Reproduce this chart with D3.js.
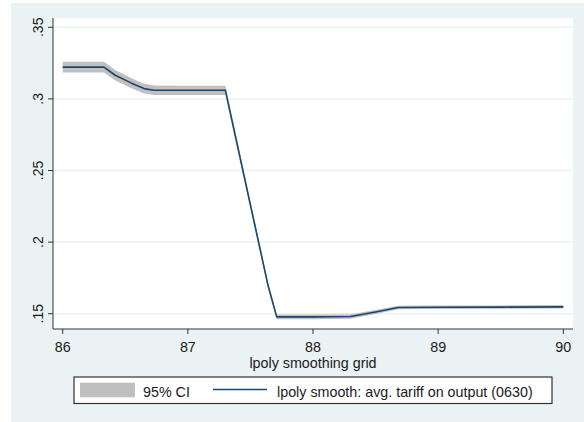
<!DOCTYPE html>
<html>
<head>
<meta charset="utf-8">
<script src="https://cdn.jsdelivr.net/npm/d3@7"></script>
<style>
  body { margin: 0; background: #fff; }
  text { font-family: "Liberation Sans", Arial, sans-serif; fill: #1a1a1a; }
</style>
</head>
<body>
<svg id="chart"></svg>
<script>
// lpoly grid points
const gridX    = [86, 86.33, 86.42, 86.55, 86.65, 86.73, 87.0, 87.3, 87.64, 87.71, 88.0, 88.3, 88.5, 88.68, 89.0, 89.5, 90.0];
const smoothY  = [.3222, .3222, .3165, .3110, .3072, .3060, .3060, .3060, .1700, .1478, .1478, .1480, .1512, .1543, .1545, .1546, .1548];
const ciLow    = [.3185, .3185, .3129, .3075, .3038, .3027, .3028, .3028, .1680, .1461, .1462, .1464, .1498, .1531, .1533, .1534, .1536];
const ciHigh   = [.3259, .3259, .3201, .3145, .3106, .3093, .3092, .3092, .1720, .1495, .1494, .1496, .1526, .1555, .1557, .1558, .1560];

const xTicks = [86, 87, 88, 89, 90];
const yTicks = [.15, .2, .25, .3, .35];
const yTickLabels = [".15", ".2", ".25", ".3", ".35"];
const xTitle = "lpoly smoothing grid";
const legendLabels = ["95% CI", "lpoly smooth: avg. tariff on output (0630)"];

const W = 584, H = 422;
const FS = "14.3px";
const svg = d3.select("#chart").attr("width", W).attr("height", H);

// graph region (light bluish gray) and plot region (white)
svg.append("rect").attr("x", 11).attr("y", 3).attr("width", W - 11).attr("height", H - 3)
    .attr("fill", "#eaf2f3");
const plot = { left: 53, right: 573, top: 18, bottom: 329 };
svg.append("rect")
    .attr("x", plot.left).attr("y", plot.top)
    .attr("width", plot.right - plot.left).attr("height", plot.bottom - plot.top)
    .attr("fill", "#fff");

const x = d3.scaleLinear().domain([86, 90]).range([62.7, 563.3]);
const y = d3.scaleLinear().domain([.15, .35]).range([313.7, 27.3]);

// gridlines
svg.append("g").selectAll("line")
    .data(yTicks)
    .join("line")
    .attr("x1", plot.left).attr("x2", plot.right)
    .attr("y1", d => y(d)).attr("y2", d => y(d))
    .attr("stroke", "#eaf2f3").attr("stroke-width", 1.5);

const pts = gridX.map((gx, i) => ({ x: gx, y: smoothY[i], lo: ciLow[i], hi: ciHigh[i] }));

// CI band
svg.append("path")
    .datum(pts)
    .attr("fill", "#c0c0c0")
    .attr("d", d3.area().x(d => x(d.x)).y0(d => y(d.lo)).y1(d => y(d.hi)));

// smooth line
svg.append("path")
    .datum(pts)
    .attr("fill", "none")
    .attr("stroke", "#1a476f")
    .attr("stroke-width", 1.6)
    .attr("stroke-linejoin", "round")
    .attr("d", d3.line().x(d => x(d.x)).y(d => y(d.y)));

// axes
const xAxis = svg.append("g").attr("transform", `translate(0, ${plot.bottom})`);
xAxis.append("line").attr("x1", plot.left).attr("x2", plot.right)
    .attr("stroke", "#333");
xAxis.selectAll(".tick")
    .data(xTicks)
    .join("line")
    .attr("x1", d => x(d)).attr("x2", d => x(d))
    .attr("y1", 0).attr("y2", 5)
    .attr("stroke", "#333");
xAxis.selectAll(".lbl")
    .data(xTicks)
    .join("text")
    .attr("x", d => x(d)).attr("y", 22.6)
    .attr("text-anchor", "middle")
    .style("font-size", FS)
    .text(d => d);

svg.append("text")
    .attr("x", (plot.left + plot.right) / 2).attr("y", 367.5)
    .attr("text-anchor", "middle")
    .style("font-size", FS)
    .text(xTitle);

const yAxis = svg.append("g");
yAxis.append("line").attr("x1", plot.left).attr("x2", plot.left)
    .attr("y1", plot.top).attr("y2", plot.bottom)
    .attr("stroke", "#333");
yAxis.selectAll(".tick")
    .data(yTicks)
    .join("line")
    .attr("x1", plot.left - 5).attr("x2", plot.left)
    .attr("y1", d => y(d)).attr("y2", d => y(d))
    .attr("stroke", "#333");
yAxis.selectAll(".lbl")
    .data(yTicks)
    .join("text")
    .attr("transform", d => `translate(43.3, ${y(d)}) rotate(-90)`)
    .attr("text-anchor", "middle")
    .style("font-size", "14px")
    .text((d, i) => yTickLabels[i]);

// legend
const legend = svg.append("g");
legend.append("rect")
    .attr("x", 74).attr("y", 377).attr("width", 478).attr("height", 26.5)
    .attr("fill", "#fff").attr("stroke", "#333").attr("stroke-width", 1.2);
legend.append("rect")
    .attr("x", 80).attr("y", 382.7).attr("width", 55).attr("height", 14.6)
    .attr("fill", "#c0c0c0");
legend.append("text").attr("x", 143).attr("y", 396.5)
    .style("font-size", FS).text(legendLabels[0]);
legend.append("line")
    .attr("x1", 213).attr("x2", 267).attr("y1", 389.5).attr("y2", 389.5)
    .attr("stroke", "#1a476f").attr("stroke-width", 1.6);
legend.append("text").attr("x", 277).attr("y", 396.5)
    .style("font-size", FS).text(legendLabels[1]);
</script>
</body>
</html>
